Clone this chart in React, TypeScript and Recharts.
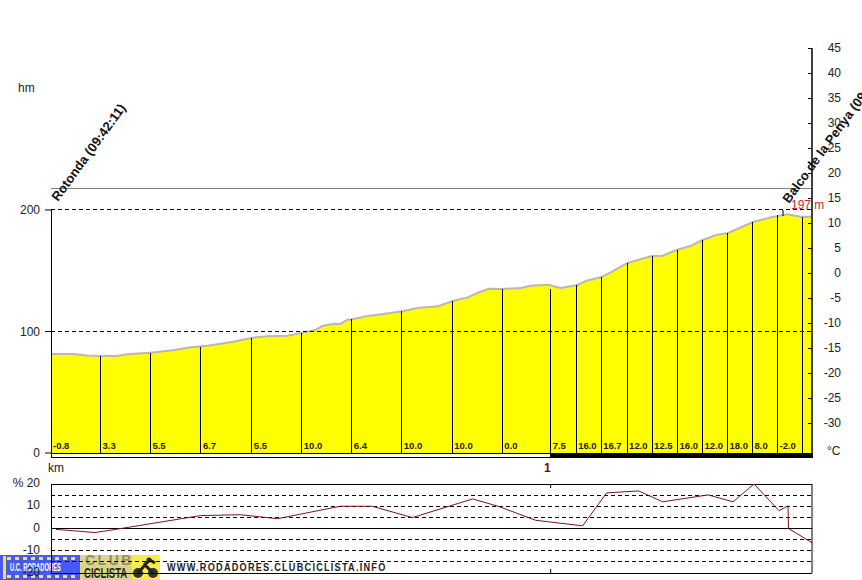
import React from "react";
import {
  ComposedChart, LineChart, Area, Line, XAxis, YAxis, ReferenceLine, ReferenceDot, ReferenceArea,
} from "recharts";

const FONT = "'Liberation Sans', Arial, sans-serif";

const profileKm = [0, .044, .072, .098, .132, .152, .198, .244, .279, .313, .359, .403, .433, .473, .503, .529, .543, .565, .579, .593, .603, .633, .665, .703, .733, .774, .804, .834, .854, .876, .904, .94, .96, .996, 1.006, 1.02, 1.054, 1.07, 1.1, 1.12, 1.154, 1.202, 1.224, 1.253, 1.281, 1.303, 1.331, 1.355, 1.405, 1.441, 1.473, 1.501, 1.523];
const profileEle = [81.5, 81.5, 80.2, 79.8, 79.8, 81.2, 82.6, 84.5, 87, 88.3, 91.1, 94.9, 96, 96.5, 99, 101.2, 104.5, 106.4, 106.2, 109.7, 110, 112.8, 114.4, 116.6, 119.3, 120.7, 125.1, 128.1, 131.9, 135.2, 135, 135.8, 137.7, 138.5, 137.2, 135.8, 138.3, 141.6, 144.6, 148.7, 156.4, 162.1, 162.4, 167.3, 170.6, 175.1, 179.4, 181.1, 190.1, 194, 196.5, 194.5, 194.5];

const sectionKm = [0, .099, .199, .3, .402, .502, .602, .702, .803, .903, 1.0, 1.051, 1.101, 1.153, 1.203, 1.254, 1.304, 1.354, 1.404, 1.454, 1.504];
const sectionTop = [200, 79.8, 82.6, 87.5, 95, 99, 110, 116.6, 125, 135, 135, 138, 144.6, 156, 162, 167.3, 175, 181, 190, 195.5, 194.5];
const sectionLabels = ["-0.8", "3.3", "5.5", "6.7", "5.5", "10.0", "6.4", "10.0", "10.0", "0.0", "7.5", "16.0", "16.7", "12.0", "12.5", "16.0", "12.0", "18.0", "8.0", "-2.0", ""];

const slopeKm = [.01, .088, .132, .299, .379, .453, .579, .643, .723, .844, .896, .97, 1.064, 1.112, 1.176, 1.224, 1.315, 1.365, 1.407, 1.457, 1.475, 1.476, 1.523];
const slopeVal = [-.4, -1.8, -.3, 5.8, 6.2, 4.4, 10, 10, 4.9, 13.3, 9.9, 3.7, 1.2, 16, 16.9, 12, 15.1, 12, 20, 8, 10.2, 0, -6.4];

const hmTicks = [0, 100, 200];
const tempTicks = [-30, -25, -20, -15, -10, -5, 0, 5, 10, 15, 20, 25, 30, 35, 40, 45];
const slopeTicks = [-20, -10, 0, 10, 20];
const slopeDashed = [15, 10, 5, -5, -10, -15];
const slopeSolid = [20, 0, -20];
const elevationDashed = [200, 100];
const MAX_KM = 1.523;

const profileData = profileKm.map((km, i) => ({ km, ele: profileEle[i] }));
const slopeData = slopeKm.map((km, i) => ({ km, slope: slopeVal[i] }));

const RightTick = (p: any) => (
  <g>
    <line x1={p.x - 4} x2={p.x} y1={p.y} y2={p.y} stroke="#000" shapeRendering="crispEdges" />
    <text x={p.x + 29} y={p.y + 4} textAnchor="end" fontSize={12} fontFamily={FONT} fill="#222">{p.payload.value}</text>
  </g>
);
const RightPlainTick = (p: any) => (
  <text x={p.x + 30} y={p.y + 3} textAnchor="end" fontSize={12} fontFamily={FONT} fill="#222">{p.payload.value}</text>
);
const LeftPlainTick = (p: any) => (
  <text x={40} y={p.y + 3} textAnchor="end" fontSize={12} fontFamily={FONT} fill="#222">
    {p.payload.value === 20 ? "% 20" : p.payload.value}
  </text>
);

const rotated = (label: string) => (p: any) => (
  <text
    x={p.cx} y={p.cy} fontSize={13} fontWeight="bold" fontFamily={FONT} fill="#111"
    transform={`rotate(-54 ${p.cx} ${p.cy})`}
  >{label}</text>
);

const small = (label: string) => (p: any) => (
  <text x={p.cx + 2} y={p.cy + 3} fontSize={9.5} fontWeight="bold" fontFamily={FONT} fill="#222">{label}</text>
);

const html = (x: number, y: number, t: string, extra: any = {}) => (
  <div style={{ position: "absolute", left: x, top: y, fontFamily: FONT, fontSize: 12, lineHeight: "14px", color: "#222", whiteSpace: "nowrap", ...extra }}>{t}</div>
);

const stripe = {
  position: "absolute", left: 7, width: 72, height: 3,
  background: "repeating-linear-gradient(90deg,#f4e64a 0 4px,transparent 4px 8px)",
} as any;

export default function App() {
  return (
    <div style={{ position: "absolute", left: 0, top: 0, width: 862, height: 580, overflow: "hidden", background: "#fff" }}>
      {/* banner, lies under the charts as in the reference */}
      <div style={{ position: "absolute", left: 0, top: 555, width: 80, height: 25, background: "#4759ee" }}>
        <div style={{ position: "absolute", left: 3, top: 1, width: 3, height: 23, background: "#efe24e" }} />
        <div style={{ ...stripe, top: 2 }} />
        <div style={{ ...stripe, top: 20 }} />
        {html(10, 6, "U.C. RODADORES", { color: "#fff", fontSize: 10, fontWeight: "bold", transform: "scaleX(.58)", transformOrigin: "left" })}
      </div>
      <div style={{ position: "absolute", left: 80, top: 555, width: 80, height: 25, background: "#f6ea4c" }}>
        <div style={{ position: "absolute", left: 0, top: 0, width: 52, height: 25, background: "#ddd585" }} />
        {html(5, -1, "CLUB", { color: "#8f8f68", fontSize: 14, lineHeight: "13px", fontWeight: "bold", letterSpacing: 2.5 })}
        {html(4, 12, "CICLISTA", { color: "#2c2c2c", fontSize: 14, lineHeight: "13px", fontWeight: "bold", transform: "scaleX(.68)", transformOrigin: "left" })}
        <svg width="27" height="22" style={{ position: "absolute", left: 52, top: 2 }}>
          <circle cx="6" cy="16" r="5" fill="#333" />
          <circle cx="21" cy="16" r="5" fill="#333" />
          <path d="M6 16 L13 8 L21 16 M12 8 L18 3 L23 6" stroke="#222" strokeWidth="3" fill="none" />
          <circle cx="17" cy="3" r="2.5" fill="#222" />
        </svg>
      </div>
      {html(167, 560, "WWW.RODADORES.CLUBCICLISTA.INFO", { fontSize: 11, fontWeight: "bold", letterSpacing: 1.5, color: "#222", transform: "scaleX(.83)", transformOrigin: "left" })}

      <div style={{ position: "absolute", left: 0, top: 0 }}>
        <ComposedChart width={862} height={470} data={profileData} margin={{ top: 48, right: 0, bottom: 12, left: 0 }}>
          <XAxis dataKey="km" type="number" domain={[0, MAX_KM]} hide />
          <YAxis
            yAxisId="hm" orientation="left" width={51} domain={[-4.115, 333.33]} ticks={hmTicks}
            axisLine={false} tickSize={6} tickMargin={5} tickLine={{ stroke: "#000" }}
            tick={{ fontSize: 12, fontFamily: FONT, fill: "#222" }} allowDataOverflow
          />
          <YAxis
            yAxisId="temp" orientation="right" width={50} domain={[-37, 45]} ticks={tempTicks}
            axisLine={{ stroke: "#000", strokeWidth: 1.5 }} tickLine={false} tickSize={0} tickMargin={0}
            tick={<RightTick />} interval={0} allowDataOverflow
          />
          <Area
            yAxisId="hm" dataKey="ele" type="linear" baseValue={0} fill="#ffff00" fillOpacity={1}
            stroke="#bdb6b4" strokeWidth={2} dot={false} isAnimationActive={false}
          />
          <ReferenceLine yAxisId="hm" y={218.1} stroke="#808080" shapeRendering="crispEdges" />
          {elevationDashed.map((v) => (
            <ReferenceLine key={v} yAxisId="hm" y={v} stroke="#000" strokeDasharray="4 3" shapeRendering="crispEdges" />
          ))}
          {sectionKm.map((km, i) => (
            <ReferenceLine
              key={km} yAxisId="hm" stroke="#000" shapeRendering="crispEdges"
              segment={[{ x: km, y: 0 }, { x: km, y: sectionTop[i] }]}
            />
          ))}
          {sectionKm.map((km, i) => (
            <ReferenceDot key={km} yAxisId="hm" x={km} y={5.8} r={0} shape={small(sectionLabels[i])} />
          ))}
          <ReferenceArea yAxisId="hm" x1={0} x2={1} y1={-3.3} y2={0} fill="#fff" fillOpacity={1} stroke="#000" shapeRendering="crispEdges" />
          <ReferenceArea yAxisId="hm" x1={1} x2={MAX_KM} y1={-3.3} y2={0} fill="#000" fillOpacity={1} stroke="#000" shapeRendering="crispEdges" />
          <ReferenceLine yAxisId="hm" stroke="#000" segment={[{ x: 1.465, y: 195 }, { x: 1.465, y: 200 }]} />
          <ReferenceDot yAxisId="hm" x={0.014} y={206.6} r={0} shape={rotated("Rotonda (09:42:11)")} />
          <ReferenceDot yAxisId="hm" x={1.477} y={205} r={0} shape={rotated("Balco de la Penya (09")} />
          <ReferenceDot
            yAxisId="hm" x={1.481} y={202} r={0}
            shape={(p: any) => <text x={p.cx} y={p.cy + 1} fontSize={12} fontFamily={FONT} fill="#e0202a">197 m</text>}
          />
        </ComposedChart>
      </div>

      <div style={{ position: "absolute", left: 0, top: 470 }}>
        <LineChart width={862} height={110} data={slopeData} margin={{ top: 14, right: 0, bottom: 7, left: 0 }}>
          <XAxis dataKey="km" type="number" domain={[0, MAX_KM]} hide />
          <YAxis
            yAxisId="l" orientation="left" width={51} domain={[-20, 20]} ticks={slopeTicks} axisLine={false} tickLine={false}
            tickSize={0} tickMargin={0} interval={0} tick={<LeftPlainTick />}
          />
          <YAxis
            yAxisId="r" orientation="right" width={50} domain={[-20, 20]} ticks={slopeTicks}
            axisLine={{ stroke: "#000" }} tickLine={false} tickSize={0} tickMargin={0} interval={0} tick={<RightPlainTick />}
          />
          {slopeDashed.map((v) => (
            <ReferenceLine key={v} yAxisId="l" y={v} stroke="#000" strokeDasharray="4 3" shapeRendering="crispEdges" />
          ))}
          {slopeSolid.map((v) => (
            <ReferenceLine key={v} yAxisId="l" y={v} stroke="#000" shapeRendering="crispEdges" />
          ))}
          <ReferenceLine yAxisId="l" x={0} stroke="#000" shapeRendering="crispEdges" />
          <ReferenceLine yAxisId="l" stroke="#000" segment={[{ x: 1, y: 20 }, { x: 1, y: 18.2 }]} />
          <ReferenceLine yAxisId="l" stroke="#000" segment={[{ x: 1, y: -20 }, { x: 1, y: -18.2 }]} />
          <Line yAxisId="l" dataKey="slope" type="linear" stroke="#7a1616" strokeWidth={1} dot={false} isAnimationActive={false} />
        </LineChart>
      </div>

      {html(18, 81, "hm")}
      {html(48, 461, "km")}
      {html(544, 461, "1", { fontWeight: "bold", color: "#5a1020" })}
      {html(827, 444, "°C")}
    </div>
  );
}
